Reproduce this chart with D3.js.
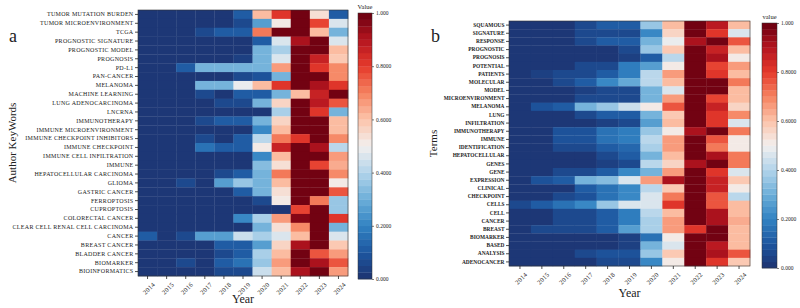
<!DOCTYPE html>
<html>
<head>
<meta charset="utf-8">
<script src="https://cdn.jsdelivr.net/npm/d3@7"></script>
<style>
  body { margin: 0; background: #fff; }
  svg text { font-family: "Liberation Serif", "Times New Roman", serif; fill: #222; }
  .domain { display: none; }
</style>
</head>
<body>
<div id="chart"></div>
<script>
var years = ["2014","2015","2016","2017","2018","2019","2020","2021","2022","2023","2024"];

// panel a: author keywords, top to bottom
var keywordsA = [
    "TUMOR MUTATION BURDEN", "TUMOR MICROENVIRONMENT", "TCGA", "PROGNOSTIC SIGNATURE",
    "PROGNOSTIC MODEL", "PROGNOSIS", "PD-L1", "PAN-CANCER", "MELANOMA", "MACHINE LEARNING",
    "LUNG ADENOCARCINOMA", "LNCRNA", "IMMUNOTHERAPY", "IMMUNE MICROENVIRONMENT",
    "IMMUNE CHECKPOINT INHIBITORS", "IMMUNE CHECKPOINT", "IMMUNE CELL INFILTRATION", "IMMUNE",
    "HEPATOCELLULAR CARCINOMA", "GLIOMA", "GASTRIC CANCER", "FERROPTOSIS", "CUPROPTOSIS",
    "COLORECTAL CANCER", "CLEAR CELL RENAL CELL CARCINOMA", "CANCER", "BREAST CANCER",
    "BLADDER CANCER", "BIOMARKER", "BIOINFORMATICS"
];

var valuesA = [
    [0,0,0,0,0,0.12,0.62,0.8,1,0.53,0.12],
    [0,0,0,0,0,0.05,0.25,0.52,1,0.78,0.47],
    [0,0,0,0.05,0.1,0.1,0.7,1,1,0.62,0.32],
    [0,0,0,0,0,0.02,0.12,0.45,0.92,1,0.45],
    [0,0,0,0,0,0,0.3,0.38,1,1,0.62],
    [0,0,0,0,0,0.04,0.3,0.47,1,0.85,0.58],
    [0,0,0.12,0.3,0.3,0.3,0.3,0.65,1,0.82,0.68],
    [0,0,0,0,0,0.05,0.08,0.3,1,1,0.68],
    [0,0,0,0.3,0.3,0.48,0.6,0.8,1,0.92,0.8],
    [0,0,0,0.05,0.02,0.1,0.1,0.3,0.62,0.85,1],
    [0,0,0,0,0.05,0.05,0.3,0.57,1,0.88,0.76],
    [0,0,0,0,0,0.02,0.02,0.38,1,0.82,0.3],
    [0,0,0,0.05,0.1,0.1,0.3,0.55,1,1,0.62],
    [0,0,0,0,0,0.02,0.2,0.6,1,1,0.6],
    [0,0,0,0.05,0.02,0.12,0.42,0.7,0.82,1,0.68],
    [0,0,0,0.15,0.12,0.12,0.52,0.85,1,0.9,0.4],
    [0,0,0,0,0,0,0.22,0.62,1,1,0.65],
    [0,0,0,0,0,0,0.33,0.53,1,0.78,0.63],
    [0,0,0,0,0.05,0.1,0.32,0.72,1,1,0.68],
    [0,0,0.06,0,0.25,0.35,0.32,0.6,1,1,0.5],
    [0,0,0,0,0,0.12,0.32,0.53,1,1,0.75],
    [0,0,0,0,0,0,0.05,0.52,1,0.7,0.35],
    [0,0,0,0,0,0,0,0.02,0.78,1,0.35],
    [0,0,0,0,0,0.2,0.38,0.66,0.95,1,0.82],
    [0,0,0,0,0,0,0.32,0.53,0.68,1,0.3],
    [0.12,0,0.06,0.25,0.25,0.43,0.38,0.45,0.6,1,0.46],
    [0,0,0,0,0.1,0.1,0.25,0.57,0.9,1,0.58],
    [0,0,0,0,0.05,0.1,0.38,0.62,1,0.75,0.65],
    [0,0,0.06,0,0.12,0.15,0.35,0.65,1,0.9,0.75],
    [0,0,0,0,0.05,0.05,0.43,0.62,0.9,1,0.65]
];

// panel b: terms, top to bottom
var termsB = [
    "SQUAMOUS", "SIGNATURE", "RESPONSE", "PROGNOSTIC", "PROGNOSIS", "POTENTIAL", "PATIENTS",
    "MOLECULAR", "MODEL", "MICROENVIRONMENT", "MELANOMA", "LUNG", "INFILTRATION",
    "IMMUNOTHERAPY", "IMMUNE", "IDENTIFICATION", "HEPATOCELLULAR", "GENES", "GENE",
    "EXPRESSION", "CLINICAL", "CHECKPOINT", "CELLS", "CELL", "CANCER", "BREAST",
    "BIOMARKER", "BASED", "ANALYSIS", "ADENOCANCER"
];

var valuesB = [
    [0,0,0,0.06,0.1,0.1,0.35,0.6,1,0.88,0.62],
    [0,0,0,0.05,0.05,0.05,0.22,0.55,1,0.82,0.45],
    [0,0,0,0.05,0.1,0.1,0.3,0.48,0.92,1,0.75],
    [0,0,0,0,0,0.06,0.35,0.58,1,0.85,0.62],
    [0,0,0,0,0,0.04,0.12,0.4,1,0.9,0.52],
    [0,0,0,0.05,0.06,0.18,0.25,0.5,1,0.78,0.65],
    [0,0.04,0.05,0.06,0.12,0.18,0.42,0.65,1,0.8,0.6],
    [0,0,0.06,0.12,0.22,0.28,0.42,0.6,1,1,0.72],
    [0,0,0,0.03,0.05,0.05,0.3,0.45,1,1,0.62],
    [0,0,0,0.06,0.05,0.05,0.3,0.65,1,0.78,0.6],
    [0,0.08,0.12,0.3,0.35,0.43,0.5,0.75,1,0.85,0.57],
    [0,0,0,0.06,0.12,0.1,0.32,0.58,1,0.82,0.68],
    [0,0,0,0,0.04,0.05,0.25,0.62,1,0.82,0.45],
    [0,0,0.08,0.08,0.15,0.18,0.35,0.52,0.9,1,0.72],
    [0,0,0.08,0.08,0.15,0.18,0.42,0.65,1,0.75,0.5],
    [0,0,0.06,0.06,0.12,0.14,0.38,0.66,1,0.7,0.5],
    [0,0,0,0,0.05,0.12,0.3,0.6,1,0.9,0.7],
    [0,0,0,0,0.03,0.06,0.42,0.55,0.92,1,0.72],
    [0,0,0.05,0.05,0.1,0.2,0.3,0.65,1,0.82,0.45],
    [0,0.08,0.12,0.3,0.33,0.45,0.65,0.92,1,0.85,0.58],
    [0,0,0,0.12,0.15,0.22,0.42,0.58,1,0.85,0.5],
    [0,0,0.05,0.08,0.15,0.2,0.46,0.7,1,0.75,0.4],
    [0.06,0.12,0.15,0.2,0.35,0.45,0.46,0.8,1,0.75,0.62],
    [0,0,0.05,0.05,0.12,0.18,0.4,0.6,1,0.92,0.62],
    [0,0,0.05,0.05,0.12,0.18,0.38,0.65,1,0.9,0.64],
    [0,0.06,0.06,0.06,0.12,0.25,0.38,0.65,0.82,1,0.62],
    [0,0,0,0,0,0.04,0.15,0.5,1,1,0.6],
    [0,0,0,0,0,0.04,0.3,0.47,1,0.88,0.62],
    [0,0,0,0.06,0.08,0.08,0.35,0.58,1,0.92,0.75],
    [0,0,0,0,0.05,0.05,0.22,0.5,1,0.8,0.58]
];

var cbarTicks = [0, 0.2, 0.4, 0.6, 0.8, 1];
var cbarLabels = ["0.000", "0.2000", "0.4000", "0.6000", "0.8000", "1.000"];

// blue -> white -> red palette, close to RdBu_r
var color = d3.scaleLinear()
    .domain([0, 0.1, 0.2, 0.3, 0.4, 0.5, 0.6, 0.7, 0.8, 0.9, 1])
    .range(["#1d3270", "#1d56a0", "#3282c2", "#6caed9", "#b2d4ea", "#f2efee",
            "#fcc4ab", "#f5825f", "#e53a2c", "#b4141f", "#690010"])
    .interpolate(d3.interpolateRgb);

var nBands = 40;
function banded(v) {
    var k = Math.min(nBands - 1, Math.floor(v * nBands));
    return color((k + 0.5) / nBands);
}

var svg = d3.select("#chart")
    .append("svg")
    .attr("width", 800)
    .attr("height", 308);

function drawHeatmap(opt) {
    var g = svg.append("g");

    var x = d3.scaleBand().domain(years).range([opt.left, opt.right]);
    var y = d3.scaleBand().domain(opt.rows).range([opt.top, opt.bottom]);

    var cells = [];
    opt.values.forEach(function(row, i) {
        row.forEach(function(v, j) {
            cells.push({row: opt.rows[i], year: years[j], value: v});
        });
    });

    g.selectAll("rect.cell")
        .data(cells)
        .enter()
        .append("rect")
        .attr("class", "cell")
        .attr("x", function(d) { return x(d.year); })
        .attr("y", function(d) { return y(d.row); })
        .attr("width", x.bandwidth() + 0.3)
        .attr("height", y.bandwidth() + 0.3)
        .attr("fill", function(d) { return banded(d.value); });

    g.append("rect")
        .attr("x", opt.left).attr("y", opt.top)
        .attr("width", opt.right - opt.left)
        .attr("height", opt.bottom - opt.top)
        .attr("fill", "none")
        .attr("stroke", "#333")
        .attr("stroke-width", 0.6);

    // row labels
    var ya = g.append("g")
        .attr("transform", "translate(" + opt.left + ",0)")
        .call(d3.axisLeft(y).tickSize(3).tickPadding(1.5));
    ya.selectAll("text")
        .style("font-size", opt.rowFont + "px")
        .style("font-weight", opt.rowWeight)
        .style("letter-spacing", opt.rowSpacing + "px");
    ya.selectAll("line").attr("stroke", "#222").attr("stroke-width", 0.8);

    // year labels
    var xa = g.append("g")
        .attr("transform", "translate(0," + opt.bottom + ")")
        .call(d3.axisBottom(x).tickSize(3).tickPadding(2));
    xa.selectAll("line").attr("stroke", "#222").attr("stroke-width", 0.8);
    xa.selectAll("text")
        .style("font-size", "6.5px")
        .style("letter-spacing", "0.3px")
        .attr("text-anchor", "end")
        .attr("dy", "0.3em")
        .attr("transform", "translate(3,4) rotate(-45)");

    svg.append("text")
        .attr("x", (opt.left + opt.right) / 2)
        .attr("y", opt.yearY)
        .attr("text-anchor", "middle")
        .style("font-size", "12px")
        .text("Year");

    svg.append("text")
        .attr("transform", "translate(" + opt.titleX + "," + ((opt.top + opt.bottom) / 2) + ") rotate(-90)")
        .attr("text-anchor", "middle")
        .style("font-size", "11px")
        .text(opt.axisTitle);

    svg.append("text")
        .attr("x", opt.letterX)
        .attr("y", opt.letterY)
        .style("font-size", "18px")
        .text(opt.letter);

    // colour bar
    var cy = d3.scaleLinear().domain([0, 1]).range([opt.cbBottom, opt.cbTop]);
    var bands = d3.range(nBands);
    var step = (opt.cbBottom - opt.cbTop) / nBands;
    g.selectAll("rect.band")
        .data(bands)
        .enter()
        .append("rect")
        .attr("class", "band")
        .attr("x", opt.cbLeft)
        .attr("y", function(k) { return cy((k + 1) / nBands); })
        .attr("width", opt.cbWidth)
        .attr("height", step + 0.3)
        .attr("fill", function(k) { return color((k + 0.5) / nBands); });

    g.append("rect")
        .attr("x", opt.cbLeft).attr("y", opt.cbTop)
        .attr("width", opt.cbWidth)
        .attr("height", opt.cbBottom - opt.cbTop)
        .attr("fill", "none")
        .attr("stroke", "#333")
        .attr("stroke-width", 0.5);

    var ca = g.append("g")
        .attr("transform", "translate(" + (opt.cbLeft + opt.cbWidth) + ",0)")
        .call(d3.axisRight(cy).tickValues(cbarTicks).tickSize(2).tickPadding(2)
            .tickFormat(function(d, i) { return cbarLabels[i]; }));
    ca.selectAll("text").style("font-size", "5.5px");
    ca.selectAll("line").attr("stroke", "#222").attr("stroke-width", 0.6);

    svg.append("text")
        .attr("x", opt.cbLeft + opt.cbWidth / 2)
        .attr("y", opt.cbTop - 4)
        .attr("text-anchor", "middle")
        .style("font-size", "6.5px")
        .text(opt.cbTitle);
}

drawHeatmap({
    rows: keywordsA, values: valuesA,
    left: 138, right: 348, top: 10, bottom: 276,
    rowFont: 6, rowWeight: "normal", rowSpacing: 0.3,
    yearY: 303, titleX: 16, axisTitle: "Author KeyWords",
    letter: "a", letterX: 9, letterY: 42,
    cbLeft: 358, cbWidth: 14, cbTop: 13, cbBottom: 279, cbTitle: "Value"
});

drawHeatmap({
    rows: termsB, values: valuesB,
    left: 509, right: 750, top: 21, bottom: 266,
    rowFont: 5.4, rowWeight: "bold", rowSpacing: 0,
    yearY: 297, titleX: 437, axisTitle: "Terms",
    letter: "b", letterX: 431, letterY: 42,
    cbLeft: 762, cbWidth: 15, cbTop: 23, cbBottom: 268, cbTitle: "value"
});
</script>
</body>
</html>
